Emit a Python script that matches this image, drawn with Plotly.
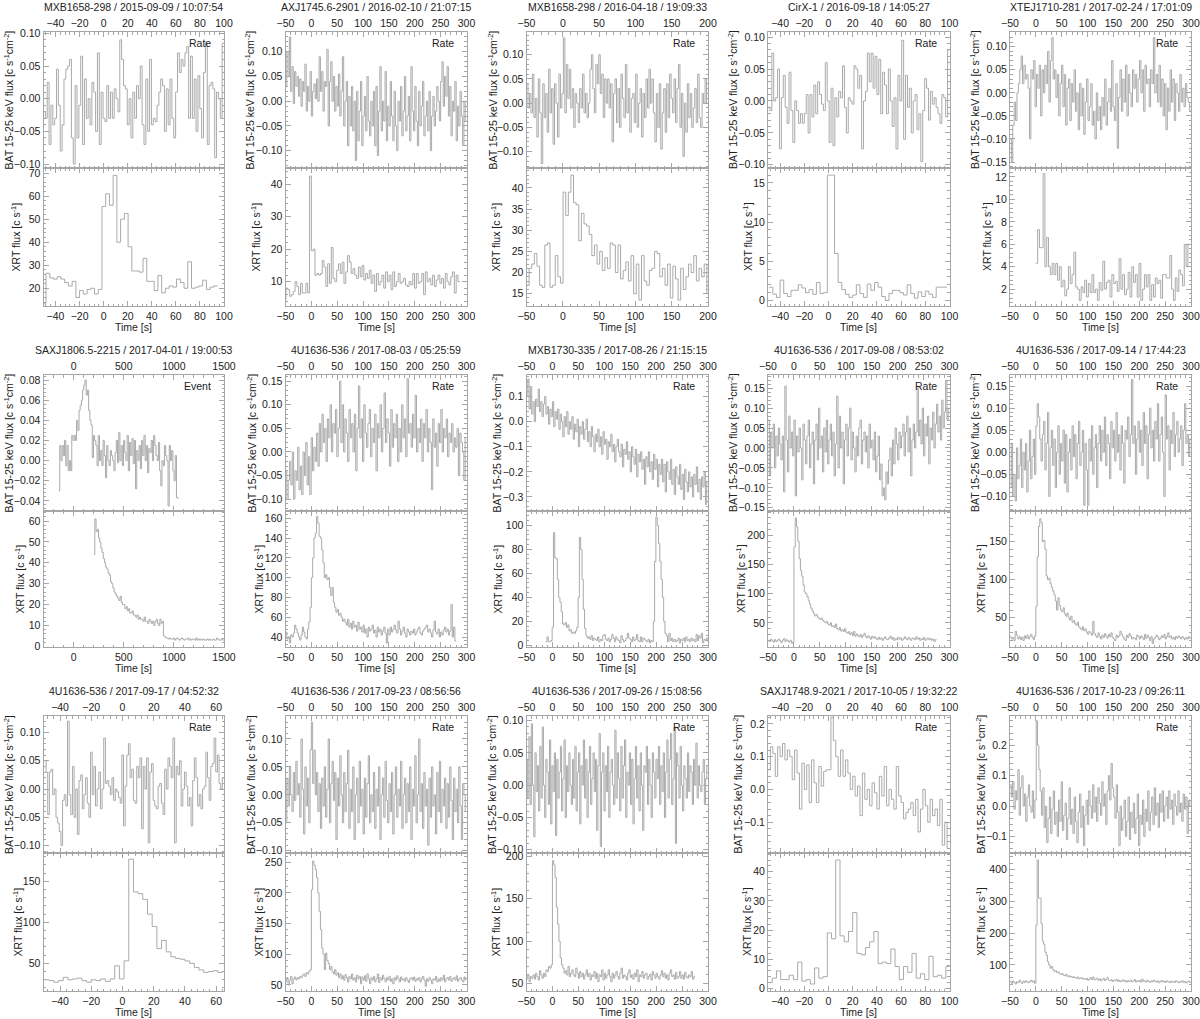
import numpy as np
import plotly.graph_objects as go

# ---------------- DATA ----------------
TITLES = [
    "MXB1658-298 / 2015-09-09 / 10:07:54", "AXJ1745.6-2901 / 2016-02-10 / 21:07:15",
    "MXB1658-298 / 2016-04-18 / 19:09:33", "CirX-1 / 2016-09-18 / 14:05:27",
    "XTEJ1710-281 / 2017-02-24 / 17:01:09", "SAXJ1806.5-2215 / 2017-04-01 / 19:00:53",
    "4U1636-536 / 2017-08-03 / 05:25:59", "MXB1730-335 / 2017-08-26 / 21:15:15",
    "4U1636-536 / 2017-09-08 / 08:53:02", "4U1636-536 / 2017-09-14 / 17:44:23",
    "4U1636-536 / 2017-09-17 / 04:52:32", "4U1636-536 / 2017-09-23 / 08:56:56",
    "4U1636-536 / 2017-09-26 / 15:08:56", "SAXJ1748.9-2021 / 2017-10-05 / 19:32:22",
    "4U1636-536 / 2017-10-23 / 09:26:11",
]
MODES = ["Rate", "Rate", "Rate", "Rate", "Rate", "Event", "Rate", "Rate", "Rate", "Rate",
         "Rate", "Rate", "Rate", "Rate", "Rate"]

# time axis ranges [s]
X_RANGES = [(-50, 100), (-50, 300), (-50, 200), (-50, 100), (-50, 300),
            (-300, 1500), (-50, 300), (-50, 300), (-50, 300), (-50, 300),
            (-50.6, 65), (-50, 300), (-50, 300), (-50, 100), (-50, 300)]
X_DTICK = [20, 50, 50, 20, 50, 500, 50, 50, 50, 50, 20, 50, 50, 20, 50]

# BAT flux axis ranges / ticks
BAT_RANGES = [(-0.106, 0.102), (-0.135, 0.14), (-0.134, 0.147), (-0.105, 0.108), (-0.163, 0.132),
              (-0.05, 0.085), (-0.125, 0.163), (-0.356, 0.186), (-0.158, 0.183), (-0.133, 0.175),
              (-0.113, 0.129), (-0.104, 0.141), (-0.105, 0.107), (-0.194, 0.224), (-0.154, 0.296)]
BAT_DTICK = [0.05, 0.05, 0.05, 0.05, 0.05, 0.02, 0.05, 0.1, 0.05, 0.05, 0.05, 0.05, 0.05, 0.1, 0.1]

# XRT flux axis ranges / ticks
XRT_RANGES = [(12.3, 72.2), (2.5, 45), (12.1, 44.7), (-0.7, 16.9), (0.5, 12.8),
              (-0.3, 64.8), (29.9, 167.4), (-1.4, 112), (8.5, 242), (11.4, 190.4),
              (16.3, 184.5), (40.2, 265), (41, 204), (-0.9, 46.4), (18, 452)]
XRT_DTICK = [10, 10, 5, 5, 2, 10, 20, 20, 50, 50, 50, 50, 50, 10, 100]

# BAT light curves: time span covered by the bins, and flux values
BAT_SPAN = [(-50, 100), (-50, 300), (-50, 200), (-50, 100), (-50, 300),
            (-150, 1050), (-50, 300), (-50, 300), (-50, 300), (-50, 300),
            (-50, 65), (-50, 300), (-50, 300), (-50, 100), (-50, 300)]

BAT_01 = [-0.02, -0.03, 0.025, -0.07, -0.01, -0.04, -0.03, 0.045, -0.01, -0.08, -0.04, 0.03, 0.045, 0.05, 0.06,
          -0.06, -0.10, 0.02, -0.06, -0.01, 0.065, -0.07, 0.03, -0.03, 0.0, -0.04, 0.025, 0.01, -0.05, 0.07,
          -0.07, 0.01, -0.03, -0.035, 0.02, -0.03, 0.01, -0.03, 0.015, 0.0, -0.02, 0.09, 0.06, 0.02, 0.015,
          -0.04, 0.0, -0.06, 0.01, -0.03, 0.02, 0.0, 0.05, -0.04, -0.07, 0.03, -0.05, 0.06, -0.04, -0.03,
          -0.035, -0.01, 0.01, 0.03, 0.02, -0.05, 0.015, -0.04, 0.03, -0.03, -0.06, 0.01, 0.07, 0.04, 0.06,
          0.05, 0.07, 0.08, -0.03, 0.065, -0.03, 0.03, -0.05, 0.035, -0.015, -0.06, 0.04, 0.085, -0.07, 0.02,
          0.025, 0.015, -0.09, 0.01, 0.0, -0.03, 0.085]
BAT_02 = [0.03, 0.10, 0.05, 0.13, 0.02, 0.07, -0.005, 0.06, 0.03, 0.05, 0.01, 0.045, -0.01, 0.04, 0.02,
          0.075, -0.02, 0.03, 0.0, 0.06, -0.03, 0.02, 0.035, 0.005, 0.045, 0.0, 0.09, 0.02, 0.06, -0.02,
          0.04, 0.03, 0.105, -0.05, 0.04, 0.08, 0.0, 0.05, -0.02, 0.03, -0.01, 0.055, -0.03, 0.02, 0.09,
          -0.05, 0.0, 0.04, -0.09, 0.01, -0.05, 0.03, -0.06, 0.0, -0.12, 0.02, -0.08, -0.02, 0.04, -0.09,
          -0.03, 0.01, -0.06, 0.05, -0.04, -0.07, 0.0, -0.05, 0.02, -0.09, 0.03, -0.11, -0.02, 0.07, -0.06,
          0.0, -0.04, 0.06, -0.08, -0.01, -0.05, 0.04, -0.03, -0.08, 0.02, -0.05, -0.1, 0.0, -0.04, 0.03,
          -0.07, -0.02, 0.05, -0.06, -0.03, 0.01, -0.08, 0.07, -0.02, -0.06, 0.03, -0.04, -0.09, 0.02, -0.05,
          -0.01, 0.04, -0.07, -0.03, 0.0, -0.06, 0.02, -0.1, -0.03, 0.01, -0.05, -0.02, 0.03, 0.0, -0.04,
          0.04, 0.08, -0.01, 0.05, 0.01, 0.07, -0.03, 0.03, -0.07, 0.0, -0.02, 0.04, -0.08, -0.01, -0.05,
          0.02, -0.03, -0.09, 0.0, -0.04]
BAT_03 = [0.04, -0.01, 0.02, -0.02, 0.06, -0.03, 0.01, -0.07, 0.05, -0.02, -0.125, 0.04, -0.03, 0.02, -0.06,
          0.07, -0.02, 0.03, -0.085, 0.04, 0.0, -0.07, 0.06, -0.01, 0.02, 0.135, -0.02, 0.08, 0.01, 0.07,
          -0.01, 0.03, -0.05, 0.02, 0.0, -0.04, 0.03, -0.01, 0.06, -0.02, 0.02, -0.03, 0.0, 0.07, 0.1,
          0.03, -0.02, 0.08, 0.04, 0.1, 0.02, 0.06, -0.03, 0.05, 0.0, 0.05, -0.01, 0.04, -0.08, 0.02,
          0.05, -0.04, 0.03, -0.05, 0.06, 0.01, -0.03, 0.08, -0.02, 0.03, -0.06, 0.01, 0.02, -0.04, 0.06,
          -0.05, 0.0, 0.03, -0.07, 0.02, -0.03, 0.05, -0.01, 0.07, 0.0, 0.05, -0.02, -0.08, 0.02, -0.05,
          0.04, -0.095, -0.02, 0.03, -0.06, 0.04, -0.03, 0.06, 0.01, -0.02, 0.05, -0.04, 0.03, 0.08, -0.05,
          0.02, -0.11, 0.0, -0.06, 0.04, -0.03, 0.02, -0.05, -0.01, 0.03, -0.04, 0.06, -0.03, -0.05, 0.02,
          0.0, 0.05, 0.0]
BAT_04 = [-0.01, -0.015, 0.075, 0.0, 0.005, 0.05, -0.075, 0.005, 0.04, -0.01, -0.035, 0.045, -0.015, -0.065,
          0.0, -0.015, -0.035, -0.02, -0.035, -0.02, 0.01, -0.05, 0.01, -0.025, 0.025, -0.02, 0.03, 0.01,
          -0.005, -0.015, 0.06, 0.0, -0.065, 0.02, -0.07, 0.005, -0.025, 0.015, 0.005, 0.055, -0.01, -0.05,
          0.005, 0.0, -0.005, 0.055, 0.05, 0.02, 0.04, -0.075, 0.0, 0.015, 0.075, 0.03, 0.075, 0.02, 0.07,
          0.01, 0.065, -0.02, 0.045, 0.025, -0.02, 0.05, 0.0, -0.04, 0.005, -0.075, 0.04, 0.0, 0.095, -0.06,
          0.04, -0.01, 0.02, -0.05, 0.0, 0.01, -0.045, -0.02, -0.095, -0.015, 0.035, 0.02, -0.03, 0.015,
          -0.005, 0.005, -0.01, -0.02, -0.035, 0.01, 0.005, -0.025, 0.08]
BAT_05 = [-0.1, -0.15, -0.07, -0.02, -0.06, 0.0, 0.02, 0.05, 0.08, 0.02, 0.06, 0.03, 0.04, 0.01, -0.1,
          0.05, 0.03, 0.07, -0.03, 0.04, 0.01, 0.06, -0.05, 0.05, 0.0, 0.06, 0.02, 0.09, -0.02, 0.07,
          0.12, 0.03, 0.05, -0.01, 0.04, -0.05, 0.02, 0.06, -0.03, 0.04, -0.07, 0.01, 0.03, -0.06, 0.02,
          -0.02, 0.05, -0.04, 0.0, -0.08, 0.02, -0.05, 0.01, -0.09, -0.02, 0.03, -0.06, -0.03, 0.02, -0.07,
          -0.04, -0.1, 0.0, -0.06, -0.03, -0.08, -0.01, -0.05, 0.03, -0.07, -0.02, 0.01, -0.04, 0.07, -0.03,
          -0.06, 0.02, -0.12, -0.01, 0.05, -0.04, 0.03, -0.02, 0.06, -0.05, 0.04, 0.0, -0.03, 0.05, 0.01,
          0.04, -0.02, 0.03, 0.07, 0.0, 0.05, -0.04, 0.06, 0.02, 0.03, -0.03, 0.05, 0.02, 0.12, 0.0,
          0.04, -0.02, 0.06, -0.03, 0.03, -0.05, 0.02, -0.08, 0.01, -0.04, 0.05, -0.02, 0.03, -0.06, 0.02,
          0.0, -0.04, 0.04, -0.02, 0.01, -0.03, 0.02, -0.01, -0.02, -0.04]
BAT_06 = [-0.03, 0.015, 0.0, 0.015, 0.005, 0.02, -0.005, 0.015, -0.01, 0.0, -0.01, 0.025, 0.02, 0.025, 0.02,
          0.04, 0.03, 0.05, 0.055, 0.06, 0.07, 0.075, 0.08, 0.065, 0.07, 0.05, 0.04, 0.035, 0.003, 0.025,
          0.02, 0.015, -0.005, 0.025, 0.0, 0.01, -0.005, 0.02, 0.005, -0.017, 0.015, 0.0, -0.005, 0.01, 0.005,
          0.0, -0.01, 0.008, 0.02, -0.002, 0.028, 0.0, 0.015, -0.005, 0.02, 0.008, 0.0, 0.025, -0.01, 0.018,
          0.005, 0.022, -0.003, 0.02, -0.028, 0.01, 0.0, 0.015, -0.008, 0.02, 0.005, 0.025, 0.0, 0.015, -0.012,
          0.012, 0.008, 0.02, 0.0, 0.025, 0.015, 0.005, 0.0, 0.018, -0.01, -0.025, 0.0, -0.005, 0.015, 0.005,
          0.0, -0.045, 0.015, 0.0, 0.01, -0.01, -0.02, 0.005, -0.037, -0.037]
BAT_07 = [-0.04, -0.1, -0.06, -0.02, -0.07, 0.0, -0.1, -0.04, -0.06, 0.01, -0.08, -0.03, -0.09, 0.0, -0.05,
          0.02, -0.07, -0.01, -0.09, 0.03, -0.04, 0.01, -0.02, 0.04, -0.03, 0.06, 0.0, 0.08, 0.02, 0.05,
          -0.02, 0.07, 0.03, 0.1, 0.0, 0.06, 0.04, 0.09, -0.01, 0.05, 0.15, 0.02, 0.1, 0.0, 0.07,
          0.04, -0.02, 0.09, 0.03, 0.06, 0.0, 0.08, -0.04, 0.05, 0.14, 0.03, 0.07, -0.02, 0.1, 0.04,
          0.01, 0.06, 0.09, -0.01, 0.05, 0.02, 0.08, -0.04, 0.06, 0.03, 0.1, 0.0, 0.05, 0.125, 0.02,
          0.07, 0.04, -0.03, 0.09, 0.01, 0.06, 0.03, 0.08, -0.02, 0.05, 0.0, 0.1, 0.03, 0.07, -0.01,
          0.155, 0.04, 0.06, 0.01, 0.08, 0.03, 0.12, 0.0, 0.05, 0.02, 0.07, -0.02, 0.06, 0.03, 0.09,
          0.0, 0.05, 0.02, -0.08, 0.07, 0.01, 0.04, -0.03, 0.06, 0.02, 0.09, 0.0, 0.05, 0.03, 0.07,
          -0.01, 0.04, 0.02, 0.06, 0.0, 0.03, 0.01, 0.05, -0.05, 0.04, 0.02, 0.0, -0.06, 0.03]
BAT_08 = [0.1, 0.17, 0.05, 0.14, 0.03, 0.08, 0.0, 0.09, 0.06, 0.13, 0.04, 0.08, 0.02, 0.07, 0.1,
          0.03, 0.06, -0.01, 0.05, 0.02, 0.08, -0.02, 0.04, 0.01, 0.05, -0.03, 0.03, 0.0, -0.06, 0.02,
          -0.02, 0.04, -0.05, 0.0, -0.03, 0.02, -0.07, -0.01, -0.04, 0.01, -0.1, -0.02, -0.05, 0.0, -0.07,
          -0.03, 0.01, -0.08, -0.04, -0.1, -0.02, -0.06, -0.12, -0.05, -0.08, -0.03, -0.1, -0.06, -0.13, -0.04,
          -0.09, -0.07, -0.15, -0.08, -0.1, -0.05, -0.12, -0.09, -0.16, -0.1, -0.07, -0.12, -0.14, -0.09, -0.18,
          -0.11, -0.13, -0.08, -0.15, -0.12, -0.2, -0.1, -0.14, -0.17, -0.11, -0.22, -0.13, -0.16, -0.12, -0.19,
          -0.15, -0.25, -0.14, -0.18, -0.12, -0.2, -0.16, -0.23, -0.13, -0.19, -0.15, -0.26, -0.17, -0.21, -0.15,
          -0.24, -0.17, -0.28, -0.16, -0.2, -0.23, -0.15, -0.25, -0.19, -0.29, -0.18, -0.22, -0.25, -0.17, -0.27,
          -0.21, -0.31, -0.19, -0.24, -0.28, -0.2, -0.26, -0.22, -0.3, -0.21, -0.25, -0.18, -0.28, -0.23, -0.31,
          -0.22, -0.26, -0.2, -0.33, -0.24]
BAT_09 = [0.07, -0.07, 0.04, 0.0, 0.06, -0.05, 0.03, -0.02, 0.05, 0.01, -0.03, 0.03, -0.11, 0.155, 0.02,
          -0.06, 0.08, 0.0, 0.04, -0.02, 0.07, -0.12, 0.03, -0.01, 0.05, 0.0, -0.08, 0.06, 0.02, -0.04,
          0.03, 0.07, -0.05, 0.01, 0.04, -0.09, 0.02, 0.06, -0.03, 0.1, 0.0, 0.03, -0.06, 0.05, -0.01,
          0.07, -0.04, 0.02, 0.06, -0.02, 0.04, -0.07, 0.01, 0.13, -0.05, 0.08, 0.0, 0.04, -0.09, 0.02,
          0.06, -0.02, 0.05, 0.1, -0.03, 0.04, 0.0, -0.06, 0.03, -0.02, 0.05, 0.07, -0.04, 0.02, 0.04,
          -0.01, 0.03, -0.05, 0.06, 0.0, 0.02, -0.03, 0.04, -0.06, -0.02, 0.03, -0.08, -0.04, -0.12, -0.1,
          -0.13, -0.06, -0.09, -0.03, 0.0, -0.07, 0.02, -0.04, 0.05, 0.01, -0.03, 0.04, 0.0, 0.03, 0.06,
          -0.02, 0.04, 0.08, -0.01, 0.05, -0.07, 0.02, 0.06, 0.0, 0.04, 0.15, 0.03, 0.07, 0.01, 0.1,
          -0.02, 0.06, 0.03, 0.08, -0.04, 0.05, 0.02, 0.09, 0.0, 0.06, 0.11, 0.04, 0.08, 0.02, 0.12,
          0.05, 0.09, 0.17, 0.07, 0.1]
BAT_10 = [-0.08, 0.02, -0.1, -0.05, -0.11, 0.01, -0.06, -0.03, 0.03, -0.08, 0.0, -0.04, 0.02, -0.09, -0.02,
          0.05, -0.06, -0.01, 0.03, -0.05, 0.06, 0.11, 0.08, 0.03, -0.02, 0.04, 0.07, -0.04, 0.02, 0.09,
          -0.1, 0.01, 0.05, -0.03, 0.03, -0.08, 0.0, 0.06, -0.05, 0.02, -0.02, 0.05, -0.07, 0.04, -0.09,
          0.0, 0.03, -0.04, 0.06, -0.01, 0.04, -0.06, 0.02, 0.07, -0.03, 0.0, 0.05, -0.12, 0.02, -0.04,
          -0.12, 0.03, -0.02, 0.06, -0.05, 0.01, 0.04, -0.08, 0.02, 0.06, -0.02, 0.05, 0.0, 0.08, -0.03,
          0.04, 0.02, -0.06, 0.07, 0.01, 0.05, -0.02, 0.09, 0.0, 0.04, -0.04, 0.06, 0.02, -0.07, 0.05,
          0.03, 0.08, -0.01, 0.04, 0.165, 0.02, 0.06, -0.05, 0.03, 0.07, 0.0, 0.05, -0.03, 0.09, 0.02,
          0.06, -0.06, 0.04, 0.1, 0.01, 0.05, -0.02, 0.07, 0.03, 0.11, -0.02, 0.04, 0.08, 0.0, -0.1,
          0.13, 0.03, 0.06, -0.04, 0.05, 0.02, 0.09, -0.01, 0.04, 0.07, 0.0, 0.03, 0.06, -0.03, 0.05,
          0.11, 0.02, 0.04, -0.01, 0.03]
BAT_11 = [0.05, 0.03, -0.045, 0.03, 0.035, -0.01, 0.0, -0.05, -0.06, -0.075, -0.1, -0.02, -0.01, -0.03, 0.12,
          -0.01, -0.045, 0.04, -0.05, 0.0, -0.08, 0.015, 0.025, -0.035, -0.01, 0.02, -0.025, -0.05, 0.065, -0.01,
          0.04, -0.03, 0.0, 0.03, -0.035, 0.0, 0.09, 0.01, 0.015, 0.005, -0.01, 0.02, -0.02, 0.0, -0.005,
          -0.015, -0.025, 0.06, -0.065, 0.005, 0.06, 0.08, 0.02, 0.035, -0.02, -0.025, 0.04, 0.02, 0.055, -0.07,
          0.04, 0.0, 0.055, -0.095, 0.03, 0.045, -0.02, -0.03, -0.035, 0.005, 0.01, -0.025, -0.045, 0.035, 0.0,
          0.055, 0.04, 0.02, 0.09, -0.095, 0.04, 0.025, 0.05, -0.03, 0.0, 0.03, 0.005, -0.03, -0.015, -0.065,
          0.015, 0.055, 0.02, -0.03, -0.01, -0.035, 0.0, 0.005, 0.065, 0.02, -0.02, 0.04, 0.045, 0.09, 0.03,
          0.06, 0.01, 0.0, 0.02]
BAT_12 = [-0.05, 0.03, -0.02, 0.05, 0.0, -0.03, 0.04, -0.01, 0.06, 0.0, 0.02, -0.04, 0.1, 0.01, -0.07,
          0.05, -0.02, 0.03, -0.05, 0.08, 0.13, 0.02, 0.08, 0.0, 0.04, -0.03, 0.02, -0.06, 0.03, -0.02,
          0.05, -0.04, 0.01, 0.1, -0.05, 0.02, 0.06, -0.01, 0.04, -0.08, 0.03, -0.02, 0.07, 0.0, -0.05,
          0.04, -0.03, 0.02, 0.08, -0.06, 0.01, -0.03, 0.05, -0.08, 0.0, 0.03, -0.05, 0.06, -0.02, 0.01,
          -0.07, 0.03, -0.04, 0.02, 0.07, -0.05, 0.0, -0.03, 0.04, -0.06, 0.01, -0.02, 0.05, -0.08, 0.0,
          0.03, -0.04, 0.06, -0.01, -0.05, 0.02, -0.03, 0.04, -0.07, 0.0, 0.05, -0.04, 0.01, -0.02, 0.06,
          -0.06, 0.0, 0.03, -0.05, 0.02, -0.03, 0.05, -0.08, 0.01, -0.02, 0.07, -0.05, 0.0, 0.1, -0.03,
          0.02, -0.06, 0.04, -0.02, 0.01, -0.09, 0.03, -0.04, 0.05, -0.02, 0.0, -0.07, 0.04, -0.03, 0.06,
          -0.05, 0.01, -0.02, 0.03, -0.06, 0.02, -0.04, 0.05, -0.01, -0.08, 0.03, -0.03, 0.01, -0.05, 0.05,
          -0.02, -0.08, 0.02, 0.0, -0.03]
BAT_13 = [0.04, -0.02, 0.075, -0.03, 0.095, 0.0, -0.08, 0.05, -0.01, 0.03, -0.04, 0.06, -0.02, 0.09, 0.0,
          -0.05, 0.04, 0.02, -0.03, 0.07, -0.06, 0.03, -0.01, 0.05, -0.078, 0.04, -0.02, 0.02, 0.06, -0.04,
          0.01, 0.07, -0.05, 0.03, -0.01, 0.05, 0.0, -0.03, 0.04, -0.02, 0.06, -0.04, 0.02, 0.05, -0.06,
          0.03, 0.0, 0.07, -0.02, 0.04, -0.05, 0.02, 0.06, -0.03, 0.01, 0.05, -0.01, 0.04, -0.07, 0.03,
          0.08, -0.095, 0.02, 0.05, -0.04, 0.03, -0.01, 0.06, -0.05, 0.02, 0.04, 0.0, -0.03, 0.085, -0.02,
          0.05, 0.01, -0.04, 0.06, -0.02, 0.03, 0.07, -0.05, 0.02, 0.0, 0.05, -0.03, 0.04, -0.06, 0.01,
          0.06, -0.02, 0.03, -0.04, 0.05, 0.0, -0.07, 0.03, 0.02, 0.06, -0.03, 0.04, 0.0, -0.05, 0.05,
          0.02, -0.02, 0.04, 0.01, 0.06, -0.03, 0.03, -0.01, 0.05, -0.05, 0.02, 0.07, -0.02, 0.04, 0.08,
          -0.03, 0.01, 0.09, -0.09, 0.05, 0.03, -0.02, 0.06, 0.0, -0.04, 0.03, 0.01, -0.02, 0.05, -0.01,
          0.03, 0.02, -0.03, 0.04, 0.0, 0.065, -0.02, 0.03, 0.0, -0.01, 0.02, 0.04, -0.03, 0.01, 0.03]
BAT_14 = [0.06, 0.13, 0.11, 0.04, 0.13, 0.1, 0.14, 0.09, 0.12, 0.1, 0.03, 0.12, 0.05, -0.06, 0.08,
          0.0, 0.075, -0.04, 0.09, 0.02, -0.04, 0.07, 0.01, 0.055, 0.06, 0.06,
          0.22, 0.15, 0.1, 0.04, 0.12, 0.04, 0.09, 0.05, 0.0, 0.04, -0.02, 0.01, -0.08, 0.05, -0.03,
          0.0, -0.05, 0.02, -0.01, -0.06, 0.04, -0.02, 0.07, -0.05, 0.0, -0.03, -0.06, 0.07, -0.02, -0.04,
          -0.09, -0.07, -0.06, -0.04, -0.08, -0.03, -0.13, -0.06, 0.0, -0.05, -0.1, -0.03, -0.08, -0.06, -0.11,
          -0.03, -0.17, -0.1, -0.18]
BAT_15 = [0.07, 0.03, 0.08, -0.01, 0.05, 0.02, 0.12, -0.03, 0.06, 0.1, 0.0, 0.04, -0.05, 0.03, 0.07,
          0.0, -0.02, 0.05, -0.04, 0.02, 0.28, 0.2, 0.12, 0.05, -0.03, 0.06, -0.07, 0.0, -0.12, -0.04,
          0.03, -0.09, -0.01, 0.05, -0.06, -0.02, -0.1, 0.02, -0.05, 0.08, -0.08, -0.03, 0.01, -0.11, -0.04,
          0.06, -0.06, -0.01, -0.09, 0.03, -0.05, -0.12, -0.02, 0.04, -0.07, 0.0, -0.13, -0.03, 0.02, -0.06,
          0.05, 0.0, -0.04, 0.07, -0.02, 0.03, -0.05, 0.06, 0.01, -0.03, 0.08, 0.0, 0.04, -0.06, 0.05,
          0.1, 0.02, 0.14, 0.06, 0.03, -0.04, 0.07, -0.02, -0.13, 0.0, -0.08, -0.04, 0.02, -0.1, -0.05,
          0.03, -0.11, -0.02, -0.07, 0.01, -0.09, -0.04, 0.04, -0.13, -0.03, -0.06, 0.02, -0.1, -0.01, -0.05,
          0.05, -0.08, -0.02, 0.03, -0.06, 0.06, -0.03, 0.01, -0.07, 0.04, -0.02, 0.05, -0.05, 0.0, 0.03,
          -0.04, 0.05, -0.01, 0.02, -0.06, 0.04, 0.0, -0.03, 0.05, -0.02, 0.01, -0.05, 0.04, -0.01, 0.03,
          -0.09, 0.02, 0.0]

# XRT light curves: first bin start [s], bin width [s], count rates
XRT_BINS = [(-51, 3.1), (-52.5, 3.5), (-50, 3.6), (-49, 3.0), (0, 3.5),
            (200, 12), (-50, 2.5), (-13, 2.5), (-50, 2.5), (-50, 2.5),
            (-50, 3.0), (-50, 2.5), (-50, 2.5), (-50, 3.5), (-50, 2.5)]

XRT_01 = [13.5, 26.5, 24.5, 24, 25, 24, 22.5, 21, 23, 16, 19, 17.5, 19.5, 20, 17.5, 19.5,
          55.5, 61, 56, 69, 40, 50, 52.5, 38, 27.5, 27.5, 27, 33, 23, 23, 19, 25.5, 18, 20, 21, 20.5,
          24, 22.5, 20, 31.5, 20, 20.5, 21, 23.5, 19.5, 20.5, 21]
XRT_02 = [4.5, 8, 7.5, 5.5, 6, 7, 10, 8.5, 6, 9.5, 6.5, 6.5, 9.5, 6.5, 42.5,
          19.5, 20, 12, 12.5, 12, 12.5, 16.5, 14.5, 8.5, 15.5, 9.5, 20.5, 11, 10, 13.5, 15.5, 12.5, 16,
          9.5, 13, 18, 16, 12.5, 14, 12, 11, 14.5, 11.5, 15, 10.5, 12.5, 11, 13.5, 9.5, 12, 7, 12.5, 9,
          10, 12, 8, 13, 10, 12, 7.5, 13, 8.5, 10, 12.5, 9.5, 10, 11, 9, 8.5, 10, 9, 12.5, 8, 12.5, 9.5,
          10, 12.5, 6, 13, 10, 11, 9, 12, 8.5, 10.5, 12, 9.5, 11, 8, 12.5, 10, 9, 11.5, 13, 6.5, 12, 10]
XRT_03 = [17, 21, 22, 24.5, 21.5, 17, 16.5, 26.5, 27, 16.5, 17, 24, 19, 17.5,
          39, 33.5, 39, 43, 36.5, 36, 27.5, 34, 31.5, 31, 29, 24, 26.5, 22, 25, 20.5, 23.5, 21, 27, 26.5,
          20, 26.5, 18.5, 20.5, 22.5, 18, 24, 15, 22, 13.5, 24, 18, 17, 20.5, 21, 25, 24.5, 19, 21, 17,
          22, 14, 21.5, 18.5, 13.5, 21, 16, 19, 22, 20, 24, 18, 21, 19, 22, 15, 25]
XRT_04 = [1.7, 0.8, 0.4, 2.6, 0.9, 0.5, 1.3, 1.3, 2.0, 1.6, 1.0, 1.4, 0.8, 2.3, 0.9, 1.0,
          16, 16, 6.0, 2.3, 1.4, 0.8, 0.4, 0.7, 2.0, 0.9, 0.4, 2.1, 1.3, 2.3, 1.7, 0.5, 0.0, 0.9, 1.3,
          1.3, 1.0, 0.7, 2.0, 0.9, 0.3, 1.1, 0.5, 1.2, 0.8, 0.4, 1.7, 1.7, 1.7]
XRT_05 = [4.3, 7.3, 5.7, 5.7, 12.3, 4.0, 6.6, 4.0, 3.3, 4.3, 3.3, 4.3, 2.8, 4.0, 2.2, 2.8, 1.4, 2.0, 4.0,
          2.5, 3.3, 5.3, 2.2, 2.0, 1.0, 2.2, 1.7, 2.8, 1.3, 2.5, 1.7, 3.3, 1.7, 2.0, 1.0, 2.6, 1.9, 4.5,
          2.0, 2.6, 2.8, 1.3, 3.3, 2.5, 2.7, 1.8, 4.7, 2.0, 3.3, 1.5, 2.0, 3.5, 1.3, 4.0, 2.6, 3.3, 1.3,
          4.3, 1.0, 2.0, 3.3, 2.2, 3.3, 1.0, 2.4, 1.3, 3.0, 2.5, 2.8, 1.2, 3.3, 3.3, 3.0, 3.0, 5.0, 2.0,
          1.0, 3.0, 1.8, 3.7, 3.3, 2.3, 6.0, 4.0, 6.0]
XRT_06 = [44, 61, 55, 56, 52, 50, 47, 45, 42, 40, 38, 37, 35, 34, 31, 30, 28, 26, 25, 24, 23, 22, 24, 21,
          20, 20, 18, 19, 17, 18, 16, 16, 17, 15, 15, 14, 15, 13, 14, 13, 13, 12, 14, 12, 12, 11, 13, 12,
          11, 12, 10, 12, 13, 11, 10, 13, 11, 12,
          5, 4.5, 4, 4, 3.5, 4, 3.5, 3.5, 4, 3, 3.5, 4, 3.5, 3, 3.5, 4, 3.5, 3, 3.5, 3.5, 4, 3, 3.5, 3,
          3.5, 3.5, 3, 4, 3, 3.5, 3, 3.5, 3, 3.5, 3, 3, 3.5, 3, 3.5, 3, 3, 3.5, 3, 3, 4, 3.5, 3, 3, 3.5, 3]
XRT_07 = [45, 38, 40, 34, 42, 40, 44, 52, 48, 44, 40, 37, 42, 50, 45, 40, 38, 48, 55, 70,
          100, 120, 140, 145, 162, 155, 142, 140, 128, 115, 100, 103, 98, 100, 90, 82, 90, 75, 70, 65,
          68, 62, 64, 60, 56, 58, 55, 52, 58, 50, 54, 48, 56, 50, 52, 46, 55, 48, 50, 45, 52, 44, 48,
          40, 50, 46, 48, 52, 44, 47, 40, 50, 45, 48, 42, 46, 50, 44, 34, 48, 42, 50, 45, 48, 52, 47,
          44, 56, 48, 42, 46, 50, 44, 40, 48, 45, 42, 46, 44, 48, 42, 45, 48, 50, 44, 42, 46, 48, 50,
          52, 45, 48, 44, 40, 47, 56, 45, 43, 48, 40, 45, 42, 47, 50, 45, 48, 42, 46, 73, 40, 50, 36]
XRT_08 = [3, 7, 3, 3, 4, 15, 94,
          73, 72, 55, 40, 36, 28, 18, 17, 19, 15, 17, 12, 13, 10, 11, 10, 12, 15, 40, 90, 80, 55, 30, 14,
          8, 6, 7, 5, 8, 4, 6, 5, 4, 7, 3, 5, 4, 8, 9, 5, 4, 6, 3, 5, 9, 6, 3, 7, 5, 4, 2, 8, 5, 3,
          4, 6, 10, 6, 5, 3, 7, 4, 5, 9, 4, 3, 7, 3, 6, 5, 4, 3, 5, 2, 4, 3,
          20, 70, 107, 100, 85, 70, 55, 40, 20, 10,
          8, 3, 10, 4, 6, 3, 5, 3, 4, 6, 2, 5, 4, 6, 3, 7, 4, 5, 3, 6, 4, 5, 3, 9, 4, 8, 6, 10, 2, 5, 4, 6, 3]
XRT_09 = [20, 18, 22, 19, 17, 21, 18, 20, 22, 19, 16, 20, 23, 18, 21, 19, 17, 20, 15, 17,
          180, 230, 215, 190, 160, 140, 130, 115, 103, 100, 95, 88, 82, 75, 70, 66, 62, 64, 60, 58, 56,
          58, 54, 52, 50, 52, 48, 46, 50, 44, 45, 42, 48, 40, 38, 42, 36, 38, 35, 40, 34, 32, 35, 30,
          33, 28, 35, 27, 31, 28, 26, 30, 25, 28, 32, 26, 24, 28, 25, 22, 27, 24, 26, 23, 21, 25, 22,
          24, 20, 23, 26, 22, 21, 24, 27, 22, 25, 20, 23, 21, 25, 22, 24, 20, 22, 26, 23, 21, 25, 22,
          20, 24, 23, 21, 26, 22, 24, 20, 23, 21, 25, 20, 22, 24, 21, 23, 20, 22, 18, 21]
XRT_10 = [25, 22, 24, 20, 32, 27, 22, 25, 21, 24, 20, 26, 23, 27, 22, 25, 28, 24, 21, 26,
          65, 130, 170, 180, 175, 150, 152, 140, 105, 100, 102, 95, 90, 85, 80, 72, 60, 76, 66, 60, 58,
          63, 55, 52, 56, 50, 47, 52, 44, 46, 42, 40, 44, 38, 36, 34, 38, 33, 35, 31, 28, 32, 30, 27,
          45, 29, 26, 24, 30, 25, 22, 27, 24, 29, 26, 23, 28, 25, 30, 24, 22, 20, 27, 24, 26, 32, 28,
          25, 22, 20, 27, 24, 29, 26, 22, 24, 23, 21, 27, 25, 22, 26, 24, 21, 28, 23, 27, 24, 20, 25,
          16, 22, 24, 27, 25, 21, 23, 26, 24, 28, 22, 25, 30, 24, 26, 22, 24, 21, 25, 23, 26, 24, 22,
          25, 23, 21, 24, 22, 25, 23]
XRT_11 = [30, 29, 27, 29, 33, 30, 31, 32, 29, 27, 30, 29, 31, 28, 31, 47, 31, 53,
          177, 137, 135, 128, 110, 95, 68, 78, 64, 58, 56, 55, 53, 50, 45, 42, 39, 40, 41, 39, 40]
XRT_12 = [55, 62, 50, 58, 64, 52, 60, 63, 58, 62, 60, 64, 62, 66, 68, 64, 70, 68, 72, 75,
          205, 252, 245, 238, 225, 200, 170, 140, 110, 100, 75, 102, 90, 85, 75, 80, 72, 68, 75, 66, 70,
          62, 68, 60, 65, 58, 67, 62, 55, 64, 60, 68, 58, 62, 55, 66, 60, 64, 52, 63, 58, 65, 56, 68,
          60, 52, 62, 58, 64, 55, 60, 68, 54, 62, 58, 66, 60, 55, 62, 58, 64, 56, 60, 52, 62, 58, 65,
          60, 55, 63, 58, 60, 56, 62, 58, 54, 60, 62, 58, 63, 56, 60, 58, 62, 55, 60, 64, 58, 48, 60,
          56, 62, 58, 52, 60, 58, 64, 55, 60, 56, 62, 58, 66, 55, 60, 62, 58, 64, 56, 60, 62, 58, 65,
          56, 60, 62, 58, 55, 63, 58]
XRT_13 = [55, 60, 52, 58, 56, 60, 55, 62, 58, 54, 65, 60, 56, 62, 58, 66, 64, 70, 68, 72,
          195, 190, 175, 140, 120, 100, 80, 72, 68, 62, 65, 60, 70, 58, 62, 66, 60, 58, 68, 62, 56,
          64, 58, 62, 55, 60, 66, 58, 62, 54, 60, 58, 64, 56, 62, 52, 60, 58, 66, 54, 62, 56, 60, 66,
          58, 52, 62, 56, 60, 64, 58, 55, 62, 68, 56, 60, 58, 54, 62, 66, 57, 60, 55, 62, 58, 66, 52,
          60, 58, 64, 56, 60, 62, 55, 58, 61, 54, 64, 60, 56, 62, 58, 55, 60, 65, 58, 62, 56, 60, 54,
          62, 66, 58, 60, 55, 63, 56, 58, 64, 56, 60, 55, 63, 58, 56, 60, 58, 64, 55, 58]
XRT_14 = [2, 3.5, 6, 3, 3, 4.5, 3, 9, 2.5, 3, 1.5, 7, 3.5, 4, 19, 17, 44, 18, 16, 19.5, 26, 12, 11.5, 14,
          16, 19.5, 8.5, 9, 8.5, 13.5, 7.5, 3, 7.5, 5.5, 12, 3.5, 5, 3, 11, 4, 4.5, 3.5, 7.5]
XRT_15 = [48, 42, 50, 45, 40, 47, 44, 52, 46, 42, 49, 45, 50, 47, 44, 48, 52, 46, 50, 42,
          225, 430, 310, 310, 230, 175, 165, 140, 130, 110, 100, 90, 95, 85, 80, 82, 76, 78, 72, 70,
          73, 68, 66, 70, 64, 66, 62, 64, 60, 63, 60, 58, 62, 56, 58, 60, 55, 57, 54, 58, 52, 56, 60,
          54, 62, 53, 55, 58, 52, 56, 50, 54, 58, 51, 55, 60, 52, 50, 54, 48, 52, 50, 55, 48, 52, 47,
          50, 53, 48, 51, 46, 50, 48, 52, 47, 49, 54, 46, 50, 48, 52, 46, 55, 48, 50, 46, 52, 48, 45,
          50, 47, 52, 48, 46, 50, 44, 48, 51, 46, 49, 45, 50, 47, 44, 49, 46, 48, 45, 50, 47, 44, 48,
          46, 50, 45, 48, 43, 47, 49, 45]

BAT_SERIES = [BAT_01, BAT_02, BAT_03, BAT_04, BAT_05, BAT_06, BAT_07, BAT_08, BAT_09, BAT_10,
              BAT_11, BAT_12, BAT_13, BAT_14, BAT_15]
XRT_SERIES = [XRT_01, XRT_02, XRT_03, XRT_04, XRT_05, XRT_06, XRT_07, XRT_08, XRT_09, XRT_10,
              XRT_11, XRT_12, XRT_13, XRT_14, XRT_15]

# ---------------- LAYOUT ----------------
W, H = 1200, 1019
COLS = [(43.5, 224), (285.5, 466.5), (526.5, 708), (768, 949.5), (1010, 1191)]
ROWS = [(32, 168, 306), (375, 511, 647), (716, 853, 991)]
BAT_TITLE_OFF = [35, 36, 34, 35, 35, 35, 34, 30, 35, 35, 35, 35, 35, 31, 30]
XRT_TITLE_OFF = [28, 30, 31, 20, 23, 25, 28, 30, 28, 30, 27, 28, 32, 22, 30]

FONT = "Liberation Sans, Arial, Helvetica, sans-serif"
FS = 10.5
TXT = "#222222"
AX = "#a6a6a6"
LINE = "#aaaaaa"


def px_x(v):
    return v / W


def px_y(v):
    return 1 - v / H


def step_xy(t0, dt, vals):
    edges = t0 + dt * np.arange(len(vals) + 1)
    y = list(vals) + [vals[-1]]
    return edges, y


def axis_style(rng, dtick, fmt=None, side=None):
    d = dict(range=list(rng), dtick=dtick, tick0=0, ticks="inside", ticklen=5, tickwidth=1,
             tickcolor=AX, showline=True, linecolor=AX, linewidth=1, mirror="ticks",
             showgrid=False, zeroline=False, automargin=False, fixedrange=True,
             ticklabeloverflow="allow",
             tickfont=dict(family=FONT, size=FS, color=TXT),
             minor=dict(ticks="inside", ticklen=2.5, tickcolor=AX, dtick=dtick / 5, showgrid=False))
    if fmt:
        d["tickformat"] = fmt
    if side:
        d["side"] = side
    return d


fig = go.Figure()
layout = {}
annotations = []

for i in range(15):
    r, c = divmod(i, 5)
    x0, x1 = COLS[c]
    top, mid, bot = ROWS[r]
    kb, kx = 2 * i + 1, 2 * i + 2
    nb = "" if kb == 1 else str(kb)
    nx = str(kx)

    bat = BAT_SERIES[i]
    s0, s1 = BAT_SPAN[i]
    tb, yb = step_xy(s0, (s1 - s0) / len(bat), bat)
    fig.add_trace(go.Scatter(x=tb, y=yb, mode="lines", line=dict(color=LINE, width=1, shape="hv"),
                             xaxis="x" + nb, yaxis="y" + nb, showlegend=False, hoverinfo="skip"))
    xrt = XRT_SERIES[i]
    t0, dt = XRT_BINS[i]
    tx, yx = step_xy(t0, dt, xrt)
    fig.add_trace(go.Scatter(x=tx, y=yx, mode="lines", line=dict(color=LINE, width=1, shape="hv"),
                             xaxis="x" + nx, yaxis="y" + nx, showlegend=False, hoverinfo="skip"))

    dom_x = [px_x(x0), px_x(x1)]
    bfmt = ".2f" if BAT_DTICK[i] < 0.1 else ".1f"
    xa = axis_style(X_RANGES[i], X_DTICK[i], side="top")
    xa.update(domain=dom_x, anchor="y" + nb)
    layout["xaxis" + nb] = xa
    ya = axis_style(BAT_RANGES[i], BAT_DTICK[i], fmt=bfmt)
    ya.update(domain=[px_y(mid), px_y(top)], anchor="x" + nb)
    layout["yaxis" + nb] = ya

    xa2 = axis_style(X_RANGES[i], X_DTICK[i], side="bottom")
    xa2.update(domain=dom_x, anchor="y" + nx)
    layout["xaxis" + nx] = xa2
    ya2 = axis_style(XRT_RANGES[i], XRT_DTICK[i], fmt="d")
    ya2.update(domain=[px_y(bot), px_y(mid)], anchor="x" + nx)
    layout["yaxis" + nx] = ya2

    f = dict(family=FONT, size=FS, color=TXT)
    cx = (x0 + x1) / 2
    annotations.append(dict(x=px_x(cx), y=px_y(top - 25), xref="paper", yref="paper",
                            text=TITLES[i], showarrow=False, font=f, xanchor="center", yanchor="middle"))
    annotations.append(dict(x=px_x(x1 - 11), y=px_y(top + 11), xref="paper", yref="paper",
                            text=MODES[i], showarrow=False, font=f, xanchor="right", yanchor="middle"))
    annotations.append(dict(x=px_x(cx), y=px_y(bot + 21), xref="paper", yref="paper",
                            text="Time [s]", showarrow=False, font=f, xanchor="center", yanchor="middle"))
    annotations.append(dict(x=px_x(x0 - BAT_TITLE_OFF[i]), y=px_y((top + mid) / 2), xref="paper", yref="paper",
                            text="BAT 15-25 keV flux [c s<sup>-1</sup>cm<sup>-2</sup>]", textangle=-90,
                            showarrow=False, font=f, xanchor="center", yanchor="middle"))
    annotations.append(dict(x=px_x(x0 - XRT_TITLE_OFF[i]), y=px_y((mid + bot) / 2), xref="paper", yref="paper",
                            text="XRT flux [c s<sup>-1</sup>]", textangle=-90,
                            showarrow=False, font=f, xanchor="center", yanchor="middle"))

fig.update_layout(**layout)
fig.update_layout(width=W, height=H, margin=dict(l=0, r=0, t=0, b=0, autoexpand=False),
                  paper_bgcolor="white", plot_bgcolor="white", annotations=annotations,
                  font=dict(family=FONT, size=FS, color=TXT), showlegend=False)

fig.write_html("out.html", config={"displayModeBar": False, "staticPlot": True},
               post_script="document.body.style.margin='0';document.body.style.padding='0';"
                           "document.body.style.overflow='hidden';")
